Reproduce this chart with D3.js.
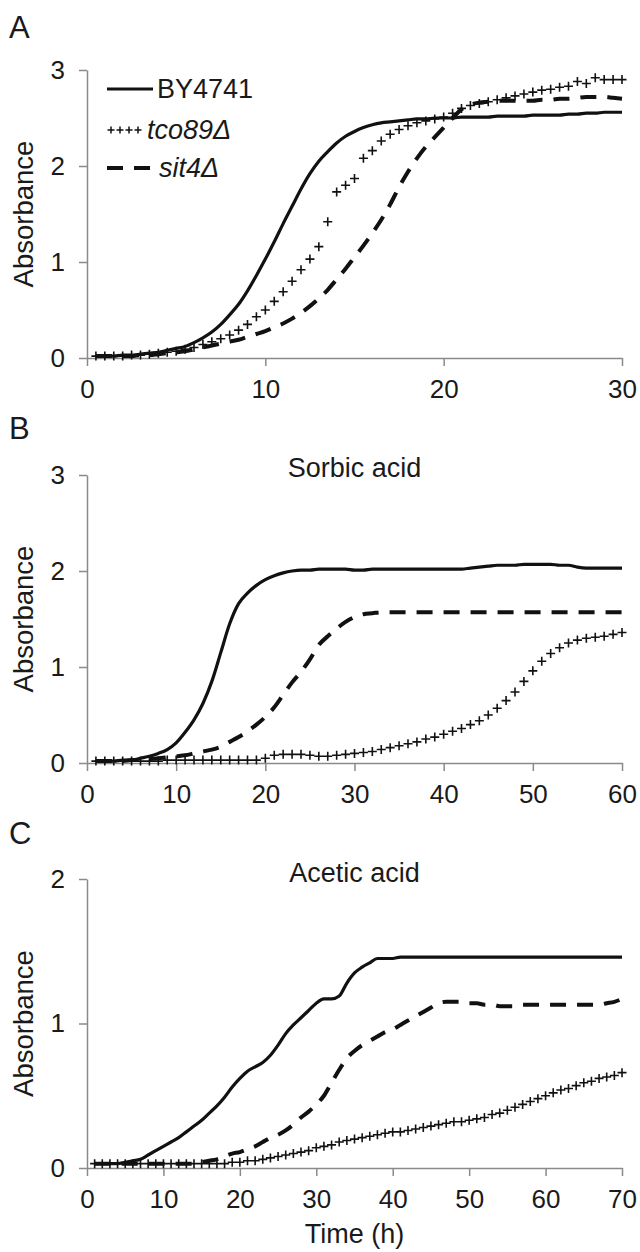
<!DOCTYPE html>
<html>
<head>
<meta charset="utf-8">
<script src="https://cdn.jsdelivr.net/npm/d3@7"></script>
<style>
  body { margin: 0; background: #fff; }
  svg text { font-family: "Liberation Sans", Arial, sans-serif; fill: #1a1a1a; }
</style>
</head>
<body>
<svg id="chart" width="640" height="1252"></svg>
<script>
// sampling times (h)
const timeA = d3.range(1, 61).map(i => i / 2);   // every 30 min
const timeB = d3.range(1, 61);                   // hourly
const timeC = d3.range(1, 71);                   // hourly

// Panel A - no acid
const by4741A = [0.02,0.02,0.02,0.03,0.03,0.04,0.05,0.06,0.08,0.10,
  0.12,0.16,0.21,0.27,0.35,0.45,0.56,0.70,0.86,1.03,
  1.21,1.40,1.58,1.76,1.92,2.05,2.15,2.24,2.31,2.36,
  2.40,2.43,2.45,2.46,2.47,2.48,2.49,2.49,2.50,2.50,
  2.50,2.51,2.51,2.51,2.51,2.52,2.52,2.52,2.52,2.53,
  2.53,2.53,2.53,2.54,2.54,2.55,2.55,2.56,2.56,2.56];
const tco89A = [0.02,0.02,0.02,0.02,0.03,0.03,0.04,0.05,0.06,0.07,
  0.09,0.11,0.14,0.17,0.20,0.24,0.29,0.35,0.43,0.50,
  0.59,0.69,0.80,0.92,1.03,1.16,1.42,1.73,1.80,1.87,
  2.08,2.16,2.26,2.33,2.38,2.42,2.45,2.47,2.49,2.51,
  2.55,2.60,2.63,2.65,2.67,2.69,2.71,2.73,2.75,2.77,
  2.79,2.80,2.82,2.83,2.88,2.86,2.92,2.90,2.90,2.90];
const sit4A = [0.02,0.02,0.02,0.02,0.02,0.03,0.03,0.04,0.05,0.06,
  0.07,0.09,0.11,0.13,0.15,0.17,0.19,0.22,0.25,0.28,
  0.32,0.36,0.41,0.47,0.54,0.62,0.71,0.82,0.93,1.05,
  1.17,1.30,1.44,1.60,1.78,1.94,2.08,2.20,2.30,2.40,
  2.50,2.59,2.64,2.66,2.67,2.68,2.68,2.68,2.68,2.68,
  2.69,2.69,2.70,2.70,2.71,2.72,2.72,2.72,2.71,2.70];

// Panel B - sorbic acid
const by4741B = [0.02,0.02,0.02,0.03,0.03,0.05,0.07,0.10,0.14,0.21,
  0.32,0.45,0.62,0.85,1.15,1.45,1.66,1.77,1.85,1.91,
  1.95,1.98,2.00,2.01,2.01,2.02,2.02,2.02,2.02,2.01,
  2.01,2.02,2.02,2.02,2.02,2.02,2.02,2.02,2.02,2.02,
  2.02,2.02,2.03,2.04,2.05,2.06,2.06,2.06,2.07,2.07,
  2.07,2.07,2.06,2.06,2.04,2.03,2.03,2.03,2.03,2.03];
const tco89B = [0.02,0.02,0.02,0.02,0.02,0.02,0.02,0.02,0.03,0.03,
  0.03,0.03,0.03,0.03,0.03,0.03,0.03,0.03,0.03,0.05,
  0.08,0.09,0.09,0.09,0.08,0.07,0.07,0.08,0.09,0.10,
  0.11,0.12,0.14,0.16,0.18,0.20,0.22,0.25,0.27,0.30,
  0.33,0.36,0.40,0.44,0.50,0.57,0.65,0.74,0.85,0.96,
  1.06,1.14,1.20,1.25,1.28,1.30,1.31,1.32,1.34,1.36];
const sit4B = [0.02,0.02,0.02,0.02,0.03,0.03,0.04,0.05,0.06,0.07,
  0.08,0.10,0.12,0.14,0.17,0.22,0.27,0.33,0.40,0.48,
  0.58,0.71,0.84,0.95,1.08,1.23,1.32,1.40,1.47,1.52,
  1.55,1.56,1.57,1.57,1.57,1.57,1.57,1.57,1.57,1.57,
  1.57,1.57,1.57,1.57,1.57,1.57,1.57,1.57,1.57,1.57,
  1.57,1.57,1.57,1.57,1.57,1.57,1.57,1.57,1.57,1.57];

// Panel C - acetic acid
const by4741C = [0.03,0.03,0.03,0.03,0.04,0.05,0.06,0.09,0.12,0.15,
  0.18,0.21,0.25,0.29,0.33,0.38,0.43,0.49,0.56,0.62,
  0.67,0.70,0.73,0.78,0.85,0.93,0.99,1.04,1.09,1.14,
  1.17,1.17,1.19,1.28,1.35,1.39,1.42,1.45,1.45,1.45,
  1.46,1.46,1.46,1.46,1.46,1.46,1.46,1.46,1.46,1.46,
  1.46,1.46,1.46,1.46,1.46,1.46,1.46,1.46,1.46,1.46,
  1.46,1.46,1.46,1.46,1.46,1.46,1.46,1.46,1.46,1.46];
const tco89C = [0.03,0.03,0.03,0.03,0.03,0.03,0.03,0.03,0.03,0.03,
  0.03,0.03,0.03,0.03,0.03,0.03,0.03,0.03,0.04,0.04,
  0.05,0.05,0.06,0.07,0.08,0.09,0.10,0.11,0.12,0.14,
  0.15,0.16,0.18,0.19,0.20,0.21,0.22,0.23,0.24,0.25,
  0.25,0.26,0.27,0.28,0.29,0.30,0.31,0.32,0.32,0.33,
  0.34,0.35,0.37,0.38,0.40,0.42,0.44,0.46,0.48,0.50,
  0.52,0.54,0.55,0.57,0.59,0.60,0.62,0.63,0.64,0.66];
const sit4C = [0.03,0.03,0.03,0.03,0.03,0.03,0.03,0.03,0.03,0.03,
  0.03,0.03,0.03,0.03,0.04,0.05,0.06,0.08,0.10,0.11,
  0.13,0.15,0.18,0.21,0.23,0.26,0.30,0.35,0.39,0.44,
  0.50,0.59,0.68,0.76,0.81,0.85,0.88,0.91,0.94,0.96,
  0.99,1.02,1.05,1.08,1.11,1.14,1.15,1.15,1.15,1.14,
  1.14,1.13,1.13,1.12,1.12,1.12,1.13,1.13,1.13,1.13,
  1.13,1.13,1.13,1.13,1.13,1.13,1.13,1.14,1.15,1.17];

const ticksA = [0, 10, 20, 30];
const ticksB = [0, 10, 20, 30, 40, 50, 60];
const ticksC = [0, 10, 20, 30, 40, 50, 60, 70];
const legendNames = ["BY4741", "tco89Δ", "sit4Δ"];

const svg = d3.select("#chart");
const X0 = 87, X1 = 622;
const AXIS = "#8a8a8a";
const DASH = "16,11";

const panels = [
  { letter: "A", letterY: 38, title: null, time: timeA, xTicks: ticksA, yMax: 3, top: 70, bottom: 358,
    by: by4741A, tco: tco89A, sit: sit4A, legend: true },
  { letter: "B", letterY: 439, title: "Sorbic acid", titleY: 477, time: timeB, xTicks: ticksB, yMax: 3, top: 475, bottom: 763,
    by: by4741B, tco: tco89B, sit: sit4B },
  { letter: "C", letterY: 844, title: "Acetic acid", titleY: 882, time: timeC, xTicks: ticksC, yMax: 2, top: 879, bottom: 1168,
    by: by4741C, tco: tco89C, sit: sit4C, xLabel: "Time (h)" }
];

function plus(px, py, s) {
  return `M${px - s},${py}h${2 * s}M${px},${py - s}v${2 * s}`;
}

function styleAxis(g) {
  g.attr("color", AXIS).attr("font-size", 26).attr("font-family", null);
  g.selectAll("path, line").attr("stroke-width", 1.5);
  g.selectAll("text").style("fill", "#1a1a1a");
}

function drawPanel(p) {
  const xMax = p.xTicks[p.xTicks.length - 1];
  const x = d3.scaleLinear().domain([0, xMax]).range([X0, X1]);
  const y = d3.scaleLinear().domain([0, p.yMax]).range([p.bottom, p.top]);
  const g = svg.append("g");

  g.append("g").attr("transform", `translate(0,${p.bottom})`)
    .call(d3.axisBottom(x).tickValues(p.xTicks).tickSize(8).tickSizeOuter(0).tickPadding(14))
    .call(styleAxis);
  g.append("g").attr("transform", `translate(${X0},0)`)
    .call(d3.axisLeft(y).ticks(p.yMax).tickFormat(d3.format("d")).tickSize(8).tickSizeOuter(0).tickPadding(14))
    .call(styleAxis);

  g.append("text").attr("x", 9).attr("y", p.letterY).attr("font-size", 31).text(p.letter);
  if (p.title) {
    g.append("text").attr("x", (X0 + X1) / 2).attr("y", p.titleY)
      .attr("text-anchor", "middle").attr("font-size", 27).text(p.title);
  }
  g.append("text")
    .attr("transform", `translate(33,${(p.top + p.bottom) / 2}) rotate(-90)`)
    .attr("text-anchor", "middle").attr("font-size", 27.5).text("Absorbance");
  if (p.xLabel) {
    g.append("text").attr("x", (X0 + X1) / 2).attr("y", p.bottom + 75)
      .attr("text-anchor", "middle").attr("font-size", 27).text(p.xLabel);
  }

  const line = d3.line()
    .x((d, i) => x(p.time[i]))
    .y(d => y(d))
    .curve(d3.curveMonotoneX);

  g.append("path").datum(p.tco)
    .attr("fill", "none").attr("stroke", "#111").attr("stroke-width", 1.6)
    .attr("d", vals => vals.map((v, i) => plus(x(p.time[i]), y(v), 4.5)).join(""));

  g.append("path").datum(p.sit)
    .attr("fill", "none").attr("stroke", "#111").attr("stroke-width", 4)
    .attr("stroke-dasharray", DASH).attr("d", line);

  g.append("path").datum(p.by)
    .attr("fill", "none").attr("stroke", "#111").attr("stroke-width", 3.2)
    .attr("stroke-linejoin", "round").attr("d", line);

  if (p.legend) drawLegend(g);
}

function drawLegend(g) {
  const rows = [89, 130, 168];
  g.append("line").attr("x1", 107).attr("x2", 153).attr("y1", rows[0]).attr("y2", rows[0])
    .attr("stroke", "#111").attr("stroke-width", 3.2);
  g.append("path")
    .attr("d", [111, 120, 129, 138].map(px => plus(px, rows[1], 3.5)).join(""))
    .attr("fill", "none").attr("stroke", "#111").attr("stroke-width", 1.5);
  g.append("line").attr("x1", 107).attr("x2", 150).attr("y1", rows[2]).attr("y2", rows[2])
    .attr("stroke", "#111").attr("stroke-width", 4).attr("stroke-dasharray", DASH);

  const textX = [157, 147, 159];
  legendNames.forEach((name, i) => {
    g.append("text").attr("x", textX[i]).attr("y", rows[i])
      .attr("dominant-baseline", "central").attr("font-size", 27)
      .attr("font-style", i === 0 ? "normal" : "italic")
      .text(name);
  });
}

panels.forEach(drawPanel);
</script>
</body>
</html>
